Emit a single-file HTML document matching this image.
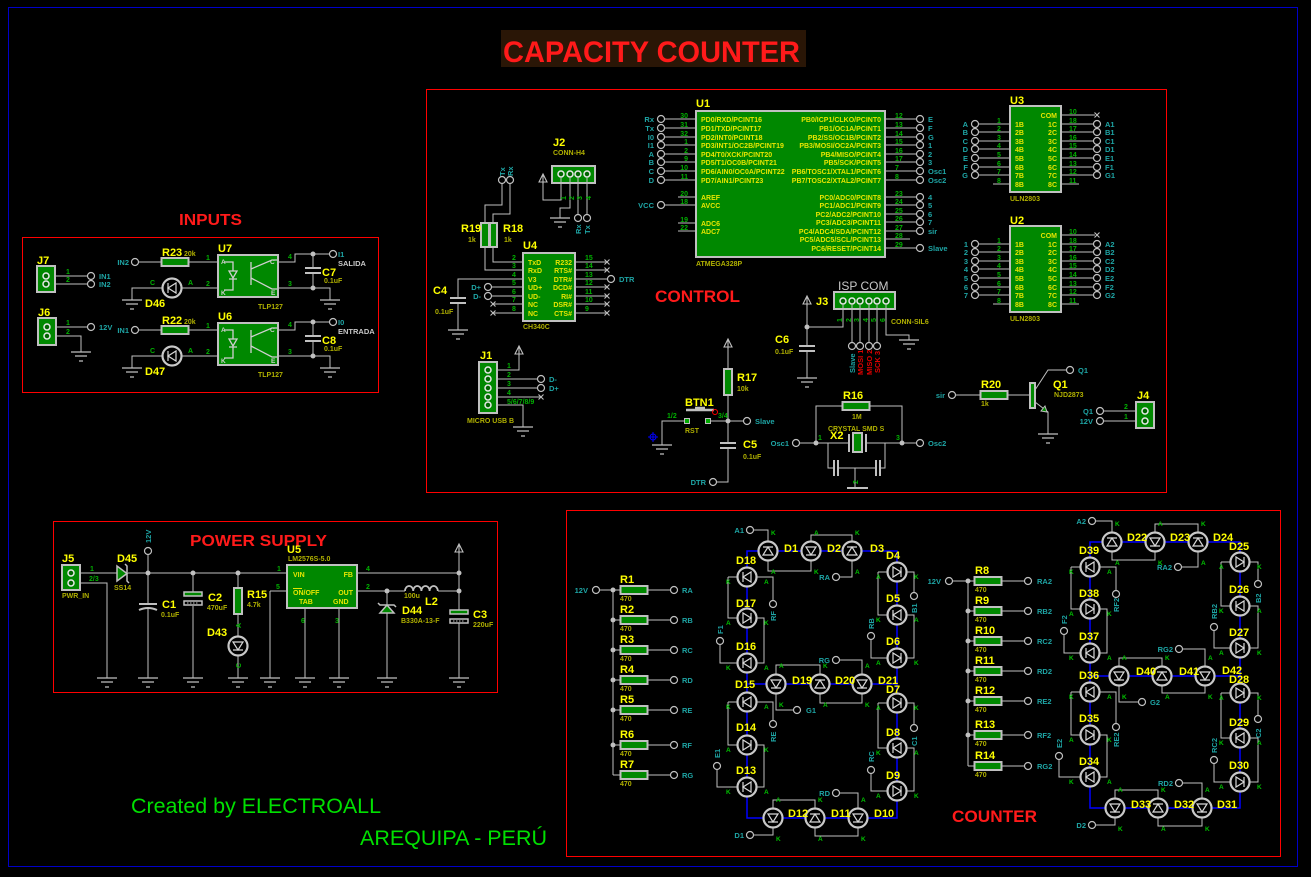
<!DOCTYPE html>
<html><head><meta charset="utf-8">
<style>
html,body{margin:0;padding:0;background:#000;width:1311px;height:877px;overflow:hidden}
svg{display:block}
text{font-family:"Liberation Sans",Arial,sans-serif}
.w{stroke:#c0c0c0;stroke-width:1;fill:none}
.b{stroke:#0000ff;stroke-width:1.5;fill:none}
.ref{fill:#ffff00;font-weight:bold;font-size:11px}
.val{fill:#b0b000;font-weight:bold;font-size:7px}
.pn{fill:#00b000;font-size:7px;font-weight:bold}
.ka{fill:#00c000;font-size:6.5px;font-weight:bold}
.net{fill:#1ea5a5;font-size:7.5px;font-weight:bold}
.ng{fill:#c8c8c8;font-size:7.5px;font-weight:bold}
.ic{fill:#e6e600;font-size:7px;font-weight:bold}
.ic2{fill:#d0d0d0;font-size:6.5px;font-weight:bold}
.tt{fill:#ff1a1a;font-weight:bold}
.red{fill:#e00000;font-size:7.5px;font-weight:bold}
.g{fill:#008800;stroke:#c0c0c0;stroke-width:2}
.e{text-anchor:end}
</style></head><body>
<svg width="1311" height="877" viewBox="0 0 1311 877">
<defs>
<path id="gnd" d="M-10,0H10M-6,4H6M-2,9H2" stroke="#c0c0c0" stroke-width="1.2" fill="none"/>
<path id="pwr" d="M-4,0L0,-8L4,0ZM0,-8V2" stroke="#c0c0c0" stroke-width="1.1" fill="none"/>
<circle id="pc" r="3.5" fill="#000" stroke="#c0c0c0" stroke-width="1.2"/>
<circle id="dot" r="2.5" fill="#c0c0c0"/>
<circle id="cp" r="3" fill="#006600" stroke="#e8e8e8" stroke-width="1.5"/>
<rect id="rh" x="-13.5" y="-4" width="27" height="8" fill="#008800" stroke="#c0c0c0" stroke-width="2"/>
<rect id="rv" x="-4" y="-13" width="8" height="26" fill="#008800" stroke="#c0c0c0" stroke-width="2"/>
<path id="xm" d="M-2.5,-2.5L2.5,2.5M-2.5,2.5L2.5,-2.5" stroke="#c0c0c0" stroke-width="1.1"/>
<g id="dR"><circle r="9.5" fill="#000" stroke="#c8c8c8" stroke-width="2.2"/><path d="M-4,-5V5L4,0ZM4,-5V5" fill="none" stroke="#d8d8d8" stroke-width="1.2"/></g>
</defs>

<!-- frame and title -->
<rect x="8.5" y="7.5" width="1289" height="859" fill="none" stroke="#0000c8"/>
<rect x="501" y="30" width="305" height="37" fill="#2a1606"/>
<text x="503" y="62" class="tt" font-size="30" textLength="297" lengthAdjust="spacingAndGlyphs">CAPACITY COUNTER</text>

<!-- ================= INPUTS ================= -->
<text x="179" y="225" class="tt" font-size="16" textLength="63" lengthAdjust="spacingAndGlyphs">INPUTS</text>
<rect x="22.5" y="237.5" width="356" height="155" fill="none" stroke="#ff0000"/>
<!-- J7 -->
<text x="37" y="264" class="ref">J7</text>
<rect class="g" x="37" y="266" width="18" height="26"/>
<use href="#cp" x="46" y="276"/><use href="#cp" x="46" y="284"/>
<path class="w" d="M55,276H87M55,284H87"/>
<use href="#pc" x="91" y="276"/><use href="#pc" x="91" y="284"/>
<text x="66" y="274" class="pn">1</text><text x="66" y="282" class="pn">2</text>
<text x="99" y="279" class="net">IN1</text><text x="99" y="287" class="net">IN2</text>
<!-- J6 -->
<text x="38" y="316" class="ref">J6</text>
<rect class="g" x="38" y="318" width="18" height="27"/>
<use href="#cp" x="47" y="327"/><use href="#cp" x="47" y="336"/>
<path class="w" d="M56,327H87M56,336H81V352"/>
<use href="#pc" x="91" y="327"/><use href="#gnd" x="81" y="352"/>
<text x="66" y="325" class="pn">1</text><text x="66" y="334" class="pn">2</text>
<text x="99" y="330" class="net">12V</text>

<!-- U7 -->
<g>
<path class="w" d="M139,262H161M189,262H218M132,300V288H162M182,288H218M278,262H295V254H329M313,254V268M313,273V288M278,288H330V300"/>
<use href="#pc" x="135" y="262"/><use href="#pc" x="333" y="254"/>
<use href="#dot" x="313" y="254"/><use href="#dot" x="313" y="288"/>
<path d="M305,268H321M305,273H321" stroke="#c0c0c0" stroke-width="2"/>
<use href="#gnd" x="132" y="300"/><use href="#gnd" x="330" y="300"/>
<use href="#rh" x="175" y="262"/>
<use href="#dR" transform="translate(172,288) rotate(180)"/>
<rect class="g" x="218" y="255" width="60" height="42"/>
<path d="M224,262H233V271M233,279V290H224M229,271H237L233,278ZM229,279H237M251,262V285M251,269L272,260H277M251,278L272,289H277" stroke="#d0d0d0" stroke-width="1.3" fill="none"/>
<text x="221" y="264" class="ic2">A</text><text x="221" y="295" class="ic2">K</text>
<text x="270" y="264" class="ic2">C</text><text x="271" y="295" class="ic2">E</text>
</g>
<text x="162" y="256" class="ref">R23</text><text x="184" y="256" class="val">20k</text>
<text x="129" y="265" class="net e">IN2</text>
<text x="206" y="260" class="pn">1</text><text x="206" y="286" class="pn">2</text>
<text x="150" y="285" class="pn">C</text><text x="188" y="285" class="pn">A</text>
<text x="145" y="307" class="ref">D46</text><text x="218" y="252" class="ref">U7</text>
<text x="288" y="259" class="pn">4</text><text x="288" y="286" class="pn">3</text>
<text x="338" y="257" class="net">I1</text><text x="338" y="266" class="ng">SALIDA</text>
<text x="322" y="276" class="ref">C7</text><text x="324" y="283" class="val">0.1uF</text>
<text x="258" y="309" class="val">TLP127</text>

<!-- U6 -->
<g transform="translate(0,68)">
<path class="w" d="M139,262H161M189,262H218M132,300V288H162M182,288H218M278,262H295V254H329M313,254V268M313,273V288M278,288H330V300"/>
<use href="#pc" x="135" y="262"/><use href="#pc" x="333" y="254"/>
<use href="#dot" x="313" y="254"/><use href="#dot" x="313" y="288"/>
<path d="M305,268H321M305,273H321" stroke="#c0c0c0" stroke-width="2"/>
<use href="#gnd" x="132" y="300"/><use href="#gnd" x="330" y="300"/>
<use href="#rh" x="175" y="262"/>
<use href="#dR" transform="translate(172,288) rotate(180)"/>
<rect class="g" x="218" y="255" width="60" height="42"/>
<path d="M224,262H233V271M233,279V290H224M229,271H237L233,278ZM229,279H237M251,262V285M251,269L272,260H277M251,278L272,289H277" stroke="#d0d0d0" stroke-width="1.3" fill="none"/>
<text x="221" y="264" class="ic2">A</text><text x="221" y="295" class="ic2">K</text>
<text x="270" y="264" class="ic2">C</text><text x="271" y="295" class="ic2">E</text>
<text x="162" y="256" class="ref">R22</text><text x="184" y="256" class="val">20k</text>
<text x="129" y="265" class="net e">IN1</text>
<text x="206" y="260" class="pn">1</text><text x="206" y="286" class="pn">2</text>
<text x="150" y="285" class="pn">C</text><text x="188" y="285" class="pn">A</text>
<text x="145" y="307" class="ref">D47</text><text x="218" y="252" class="ref">U6</text>
<text x="288" y="259" class="pn">4</text><text x="288" y="286" class="pn">3</text>
<text x="338" y="257" class="net">I0</text><text x="338" y="266" class="ng">ENTRADA</text>
<text x="322" y="276" class="ref">C8</text><text x="324" y="283" class="val">0.1uF</text>
<text x="258" y="309" class="val">TLP127</text>
</g>

<!-- ================= CONTROL ================= -->
<rect x="426.5" y="89.5" width="740" height="403" fill="none" stroke="#ff0000"/>
<text x="655" y="302" class="tt" font-size="17" textLength="85" lengthAdjust="spacingAndGlyphs">CONTROL</text>

<!-- J2 -->
<text x="553" y="146" class="ref">J2</text><text x="553" y="155" class="val">CONN-H4</text>
<rect class="g" x="552" y="166" width="43" height="17"/>
<use href="#cp" x="561" y="174"/><use href="#cp" x="570" y="174"/><use href="#cp" x="578" y="174"/><use href="#cp" x="587" y="174"/>
<path class="w" d="M561,177V200H543V182M570,177V208H560V218M578,177V214M587,177V214"/>
<use href="#pwr" x="543" y="182"/><use href="#gnd" x="560" y="218"/>
<use href="#pc" x="578" y="218"/><use href="#pc" x="587" y="218"/>
<text transform="translate(566,200) rotate(-90)" class="pn">1</text>
<text transform="translate(574,200) rotate(-90)" class="pn">2</text>
<text transform="translate(582,200) rotate(-90)" class="pn">3</text>
<text transform="translate(591,200) rotate(-90)" class="pn">4</text>
<text transform="translate(581,234) rotate(-90)" class="net">Rx</text>
<text transform="translate(590,234) rotate(-90)" class="net">Tx</text>

<!-- R19/R18 -->
<use href="#pc" x="502" y="180"/><use href="#pc" x="510" y="180"/>
<text transform="translate(505,176) rotate(-90)" class="net">Tx</text>
<text transform="translate(513,176) rotate(-90)" class="net">Rx</text>
<path class="w" d="M502,184V205H485V223M510,184V214H493V223M485,247V270H523M493,247V262H523"/>
<rect class="g" x="481" y="223" width="8" height="24"/>
<rect class="g" x="490" y="223" width="7" height="24"/>
<text x="461" y="232" class="ref">R19</text><text x="468" y="242" class="val">1k</text>
<text x="503" y="232" class="ref">R18</text><text x="504" y="242" class="val">1k</text>

<!-- U4 -->
<text x="523" y="249" class="ref">U4</text>
<rect class="g" x="523" y="253" width="52" height="68"/>
<text x="523" y="329" class="val">CH340C</text>
<path class="w" d="M523,279H458V298M458,303V330M492,287H523M492,296H523M493,304H523M493,313H523M575,262H606M575,270H606M575,279H607M575,287H606M575,296H606M575,304H606M575,313H606"/>
<path d="M450,298H466M450,303H466" stroke="#c0c0c0" stroke-width="2"/>
<use href="#gnd" x="458" y="330"/>
<use href="#pc" x="488" y="287"/><use href="#pc" x="488" y="296"/>
<use href="#xm" x="493" y="304"/><use href="#xm" x="493" y="313"/>
<use href="#xm" x="607" y="262"/><use href="#xm" x="607" y="270"/><use href="#pc" x="611" y="279"/>
<use href="#xm" x="607" y="287"/><use href="#xm" x="607" y="296"/><use href="#xm" x="607" y="304"/><use href="#xm" x="607" y="313"/>
<text x="619" y="282" class="net">DTR</text>
<text x="481" y="290" class="net e">D+</text><text x="481" y="299" class="net e">D-</text>
<text x="433" y="294" class="ref">C4</text><text x="435" y="314" class="val">0.1uF</text>
<g class="pn">
<text x="512" y="260">2</text><text x="512" y="268">3</text><text x="512" y="277">4</text><text x="512" y="285">5</text><text x="512" y="294">6</text><text x="512" y="302">7</text><text x="512" y="311">8</text>
<text x="585" y="260">15</text><text x="585" y="268">14</text><text x="585" y="277">13</text><text x="585" y="285">12</text><text x="585" y="294">11</text><text x="585" y="302">10</text><text x="585" y="311">9</text>
</g>
<g class="ic">
<text x="528" y="265">TxD</text><text x="528" y="273">RxD</text><text x="528" y="282">V3</text><text x="528" y="290">UD+</text><text x="528" y="299">UD-</text><text x="528" y="307">NC</text><text x="528" y="316">NC</text>
</g>
<g class="ic e">
<text x="572" y="265">R232</text><text x="572" y="273">RTS#</text><text x="572" y="282">DTR#</text><text x="572" y="290">DCD#</text><text x="572" y="299">RI#</text><text x="572" y="307">DSR#</text><text x="572" y="316">CTS#</text>
</g>

<!-- J1 -->
<text x="480" y="359" class="ref">J1</text>
<rect class="g" x="479" y="362" width="18" height="51"/>
<use href="#cp" x="488" y="370"/><use href="#cp" x="488" y="379"/><use href="#cp" x="488" y="388"/><use href="#cp" x="488" y="397"/><use href="#cp" x="488" y="405"/>
<path class="w" d="M497,370H519V354M497,379H537M497,388H537M497,397H541M497,405H523V427"/>
<use href="#pwr" x="519" y="354"/>
<use href="#pc" x="541" y="379"/><use href="#pc" x="541" y="388"/><use href="#xm" x="541" y="397"/>
<use href="#gnd" x="523" y="427"/>
<text x="549" y="382" class="net">D-</text><text x="549" y="391" class="net">D+</text>
<g class="pn"><text x="507" y="368">1</text><text x="507" y="377">2</text><text x="507" y="386">3</text><text x="507" y="395">4</text><text x="507" y="404">5/6/7/8/9</text></g>
<text x="467" y="423" class="val">MICRO USB B</text>

<!-- U1 -->
<text x="696" y="107" class="ref">U1</text>
<rect class="g" x="696" y="111" width="189" height="146"/>
<text x="696" y="266" class="val">ATMEGA328P</text>
<path class="w" d="M665,119H696M665,128H696M665,137H696M665,145H696M665,154H696M665,162H696M665,171H696M665,180H696M678,197H696M665,205H696M678,223H696M678,231H696M885,119H916M885,128H916M885,137H916M885,145H916M885,154H916M885,162H916M885,171H916M885,180H916M885,197H916M885,205H916M885,214H916M885,222H916M885,231H916M885,239H910M885,248H916"/>
<use href="#pc" x="661" y="119"/><use href="#pc" x="661" y="128"/><use href="#pc" x="661" y="137"/><use href="#pc" x="661" y="145"/><use href="#pc" x="661" y="154"/><use href="#pc" x="661" y="162"/><use href="#pc" x="661" y="171"/><use href="#pc" x="661" y="180"/><use href="#pc" x="661" y="205"/>
<use href="#pc" x="920" y="119"/><use href="#pc" x="920" y="128"/><use href="#pc" x="920" y="137"/><use href="#pc" x="920" y="145"/><use href="#pc" x="920" y="154"/><use href="#pc" x="920" y="162"/><use href="#pc" x="920" y="171"/><use href="#pc" x="920" y="180"/>
<use href="#pc" x="920" y="197"/><use href="#pc" x="920" y="205"/><use href="#pc" x="920" y="214"/><use href="#pc" x="920" y="222"/><use href="#pc" x="920" y="231"/><use href="#pc" x="920" y="248"/>
<g class="net e">
<text x="654" y="122">Rx</text><text x="654" y="131">Tx</text><text x="654" y="140">I0</text><text x="654" y="148">I1</text><text x="654" y="157">A</text><text x="654" y="165">B</text><text x="654" y="174">C</text><text x="654" y="183">D</text><text x="654" y="208">VCC</text>
</g>
<g class="net">
<text x="928" y="122">E</text><text x="928" y="131">F</text><text x="928" y="140">G</text><text x="928" y="148">1</text><text x="928" y="157">2</text><text x="928" y="165">3</text><text x="928" y="174">Osc1</text><text x="928" y="183">Osc2</text>
<text x="928" y="200">4</text><text x="928" y="208">5</text><text x="928" y="217">6</text><text x="928" y="225">7</text><text x="928" y="234">sir</text><text x="928" y="251">Slave</text>
</g>
<g class="pn e">
<text x="688" y="118">30</text><text x="688" y="127">31</text><text x="688" y="136">32</text><text x="688" y="144">1</text><text x="688" y="153">2</text><text x="688" y="161">9</text><text x="688" y="170">10</text><text x="688" y="179">11</text>
<text x="688" y="196">20</text><text x="688" y="204">18</text><text x="688" y="222">19</text><text x="688" y="230">22</text>
</g>
<g class="pn">
<text x="895" y="118">12</text><text x="895" y="127">13</text><text x="895" y="136">14</text><text x="895" y="144">15</text><text x="895" y="153">16</text><text x="895" y="161">17</text><text x="895" y="170">7</text><text x="895" y="179">8</text>
<text x="895" y="196">23</text><text x="895" y="204">24</text><text x="895" y="213">25</text><text x="895" y="221">26</text><text x="895" y="230">27</text><text x="895" y="238">28</text><text x="895" y="247">29</text>
</g>
<g class="ic">
<text x="701" y="122">PD0/RXD/PCINT16</text><text x="701" y="131">PD1/TXD/PCINT17</text><text x="701" y="140">PD2/INT0/PCINT18</text><text x="701" y="148">PD3/INT1/OC2B/PCINT19</text><text x="701" y="157">PD4/T0/XCK/PCINT20</text><text x="701" y="165">PD5/T1/OC0B/PCINT21</text><text x="701" y="174">PD6/AIN0/OC0A/PCINT22</text><text x="701" y="183">PD7/AIN1/PCINT23</text>
<text x="701" y="200">AREF</text><text x="701" y="208">AVCC</text><text x="701" y="226">ADC6</text><text x="701" y="234">ADC7</text>
</g>
<g class="ic e">
<text x="881" y="122">PB0/ICP1/CLKO/PCINT0</text><text x="881" y="131">PB1/OC1A/PCINT1</text><text x="881" y="140">PB2/SS/OC1B/PCINT2</text><text x="881" y="148">PB3/MOSI/OC2A/PCINT3</text><text x="881" y="157">PB4/MISO/PCINT4</text><text x="881" y="165">PB5/SCK/PCINT5</text><text x="881" y="174">PB6/TOSC1/XTAL1/PCINT6</text><text x="881" y="183">PB7/TOSC2/XTAL2/PCINT7</text>
<text x="881" y="200">PC0/ADC0/PCINT8</text><text x="881" y="208">PC1/ADC1/PCINT9</text><text x="881" y="217">PC2/ADC2/PCINT10</text><text x="881" y="225">PC3/ADC3/PCINT11</text><text x="881" y="234">PC4/ADC4/SDA/PCINT12</text><text x="881" y="242">PC5/ADC5/SCL/PCINT13</text><text x="881" y="251">PC6/RESET/PCINT14</text>
</g>

<!-- U3 -->
<text x="1010" y="104" class="ref">U3</text>
<rect class="g" x="1010" y="106" width="51" height="86"/>
<text x="1010" y="201" class="val">ULN2803</text>
<path class="w" d="M979,124H1010M979,132H1010M979,141H1010M979,149H1010M979,158H1010M979,167H1010M979,175H1010M993,184H1010M1061,115H1095M1061,124H1093M1061,132H1093M1061,141H1093M1061,149H1093M1061,158H1093M1061,167H1093M1061,175H1093M1061,184H1079"/>
<use href="#xm" x="1097" y="115"/>
<use href="#pc" x="975" y="124"/><use href="#pc" x="975" y="132"/><use href="#pc" x="975" y="141"/><use href="#pc" x="975" y="149"/><use href="#pc" x="975" y="158"/><use href="#pc" x="975" y="167"/><use href="#pc" x="975" y="175"/>
<use href="#pc" x="1097" y="124"/><use href="#pc" x="1097" y="132"/><use href="#pc" x="1097" y="141"/><use href="#pc" x="1097" y="149"/><use href="#pc" x="1097" y="158"/><use href="#pc" x="1097" y="167"/><use href="#pc" x="1097" y="175"/>
<g class="net e"><text x="968" y="127">A</text><text x="968" y="135">B</text><text x="968" y="144">C</text><text x="968" y="152">D</text><text x="968" y="161">E</text><text x="968" y="170">F</text><text x="968" y="178">G</text></g>
<g class="net"><text x="1105" y="127">A1</text><text x="1105" y="135">B1</text><text x="1105" y="144">C1</text><text x="1105" y="152">D1</text><text x="1105" y="161">E1</text><text x="1105" y="170">F1</text><text x="1105" y="178">G1</text></g>
<g class="pn"><text x="997" y="123">1</text><text x="997" y="131">2</text><text x="997" y="140">3</text><text x="997" y="148">4</text><text x="997" y="157">5</text><text x="997" y="166">6</text><text x="997" y="174">7</text><text x="997" y="183">8</text>
<text x="1069" y="114">10</text><text x="1069" y="123">18</text><text x="1069" y="131">17</text><text x="1069" y="140">16</text><text x="1069" y="148">15</text><text x="1069" y="157">14</text><text x="1069" y="166">13</text><text x="1069" y="174">12</text><text x="1069" y="183">11</text></g>
<g class="ic"><text x="1015" y="127">1B</text><text x="1015" y="135">2B</text><text x="1015" y="144">3B</text><text x="1015" y="152">4B</text><text x="1015" y="161">5B</text><text x="1015" y="170">6B</text><text x="1015" y="178">7B</text><text x="1015" y="187">8B</text></g>
<g class="ic e"><text x="1057" y="118">COM</text><text x="1057" y="127">1C</text><text x="1057" y="135">2C</text><text x="1057" y="144">3C</text><text x="1057" y="152">4C</text><text x="1057" y="161">5C</text><text x="1057" y="170">6C</text><text x="1057" y="178">7C</text><text x="1057" y="187">8C</text></g>

<!-- U2 -->
<g transform="translate(0,120)">
<text x="1010" y="104" class="ref">U2</text>
<rect class="g" x="1010" y="106" width="51" height="86"/>
<text x="1010" y="201" class="val">ULN2803</text>
<path class="w" d="M979,124H1010M979,132H1010M979,141H1010M979,149H1010M979,158H1010M979,167H1010M979,175H1010M993,184H1010M1061,115H1095M1061,124H1093M1061,132H1093M1061,141H1093M1061,149H1093M1061,158H1093M1061,167H1093M1061,175H1093M1061,184H1079"/>
<use href="#xm" x="1097" y="115"/>
<use href="#pc" x="975" y="124"/><use href="#pc" x="975" y="132"/><use href="#pc" x="975" y="141"/><use href="#pc" x="975" y="149"/><use href="#pc" x="975" y="158"/><use href="#pc" x="975" y="167"/><use href="#pc" x="975" y="175"/>
<use href="#pc" x="1097" y="124"/><use href="#pc" x="1097" y="132"/><use href="#pc" x="1097" y="141"/><use href="#pc" x="1097" y="149"/><use href="#pc" x="1097" y="158"/><use href="#pc" x="1097" y="167"/><use href="#pc" x="1097" y="175"/>
<g class="net e"><text x="968" y="127">1</text><text x="968" y="135">2</text><text x="968" y="144">3</text><text x="968" y="152">4</text><text x="968" y="161">5</text><text x="968" y="170">6</text><text x="968" y="178">7</text></g>
<g class="net"><text x="1105" y="127">A2</text><text x="1105" y="135">B2</text><text x="1105" y="144">C2</text><text x="1105" y="152">D2</text><text x="1105" y="161">E2</text><text x="1105" y="170">F2</text><text x="1105" y="178">G2</text></g>
<g class="pn"><text x="997" y="123">1</text><text x="997" y="131">2</text><text x="997" y="140">3</text><text x="997" y="148">4</text><text x="997" y="157">5</text><text x="997" y="166">6</text><text x="997" y="174">7</text><text x="997" y="183">8</text>
<text x="1069" y="114">10</text><text x="1069" y="123">18</text><text x="1069" y="131">17</text><text x="1069" y="140">16</text><text x="1069" y="148">15</text><text x="1069" y="157">14</text><text x="1069" y="166">13</text><text x="1069" y="174">12</text><text x="1069" y="183">11</text></g>
<g class="ic"><text x="1015" y="127">1B</text><text x="1015" y="135">2B</text><text x="1015" y="144">3B</text><text x="1015" y="152">4B</text><text x="1015" y="161">5B</text><text x="1015" y="170">6B</text><text x="1015" y="178">7B</text><text x="1015" y="187">8B</text></g>
<g class="ic e"><text x="1057" y="118">COM</text><text x="1057" y="127">1C</text><text x="1057" y="135">2C</text><text x="1057" y="144">3C</text><text x="1057" y="152">4C</text><text x="1057" y="161">5C</text><text x="1057" y="170">6C</text><text x="1057" y="178">7C</text><text x="1057" y="187">8C</text></g>
</g>

<!-- J3 ISP -->
<text x="838" y="290" fill="#c8c8c8" font-size="12">ISP COM</text>
<rect class="g" x="834" y="292" width="61" height="17"/>
<use href="#cp" x="843" y="301"/><use href="#cp" x="852" y="301"/><use href="#cp" x="860" y="301"/><use href="#cp" x="869" y="301"/><use href="#cp" x="877" y="301"/><use href="#cp" x="886" y="301"/>
<text x="816" y="305" class="ref">J3</text>
<path class="w" d="M843,304V327H807M807,327V304M807,327V346M807,351V378M852,304V342M860,304V342M869,304V342M877,304V342M886,304V335H909V340"/>
<use href="#dot" x="807" y="327"/><use href="#pwr" x="807" y="304"/>
<path d="M799,346H815M799,351H815" stroke="#c0c0c0" stroke-width="2"/>
<use href="#gnd" x="807" y="378"/><use href="#gnd" x="909" y="340"/>
<use href="#pc" x="852" y="346"/><use href="#pc" x="860" y="346"/><use href="#pc" x="869" y="346"/><use href="#pc" x="877" y="346"/>
<text x="775" y="343" class="ref">C6</text><text x="775" y="354" class="val">0.1uF</text>
<text x="891" y="324" class="val">CONN-SIL6</text>
<text transform="translate(842,322) rotate(-90)" class="pn">1</text>
<text transform="translate(851,322) rotate(-90)" class="pn">2</text>
<text transform="translate(859,322) rotate(-90)" class="pn">3</text>
<text transform="translate(868,322) rotate(-90)" class="pn">4</text>
<text transform="translate(876,322) rotate(-90)" class="pn">5</text>
<text transform="translate(885,322) rotate(-90)" class="pn">6</text>
<text transform="translate(855,373) rotate(-90)" class="net">Slave</text>
<text transform="translate(863,375) rotate(-90)" class="red">MOSI 1</text>
<text transform="translate(872,375) rotate(-90)" class="red">MISO 2</text>
<text transform="translate(880,373) rotate(-90)" class="red">SCK 3</text>

<!-- R17 / BTN1 / C5 -->
<use href="#pwr" x="728" y="347"/>
<path class="w" d="M728,347V369M728,395V443M728,448V482H717M708,421H743M687,421H662V445"/>
<use href="#rv" x="728" y="382"/>
<use href="#dot" x="728" y="421"/>
<use href="#pc" x="747" y="421"/><use href="#pc" x="713" y="482"/>
<path d="M720,443H736M720,448H736" stroke="#c0c0c0" stroke-width="2"/>
<use href="#gnd" x="662" y="445"/>
<text x="737" y="381" class="ref">R17</text><text x="737" y="391" class="val">10k</text>
<text x="685" y="406" class="ref">BTN1</text>
<path d="M686,410H714M695,408H705" stroke="#c0c0c0" stroke-width="2.5"/>
<rect x="684.5" y="418.5" width="5" height="5" fill="#00aa00" stroke="#c0c0c0"/>
<rect x="705.5" y="418.5" width="5" height="5" fill="#00aa00" stroke="#c0c0c0"/>
<circle cx="715" cy="412" r="2.5" fill="none" stroke="#ff0000"/>
<text x="667" y="418" class="pn">1/2</text><text x="718" y="418" class="pn">3/4</text>
<text x="685" y="433" class="val">RST</text>
<circle cx="653" cy="437" r="3" fill="none" stroke="#0000ff"/><path d="M648,437H658M653,432V442" stroke="#0000ff"/>
<text x="755" y="424" class="net">Slave</text>
<text x="706" y="485" class="net e">DTR</text>
<text x="743" y="448" class="ref">C5</text><text x="743" y="459" class="val">0.1uF</text>

<!-- R16 / X2 -->
<use href="#rh" x="856" y="406"/>
<text x="843" y="399" class="ref">R16</text><text x="852" y="419" class="val">1M</text>
<path class="w" d="M842,406H816V443M870,406H902V443M800,443H849M866,443H916M828,443V468H834M838,468H876M880,468H885V443M855,468V488"/>
<use href="#dot" x="816" y="443"/><use href="#dot" x="902" y="443"/>
<use href="#pc" x="796" y="443"/><use href="#pc" x="920" y="443"/>
<rect class="g" x="853" y="433" width="9" height="19"/>
<path d="M849,434V452M866,434V452M834,460V476M838,460V476M876,460V476M880,460V476M847,488H868" stroke="#c0c0c0" stroke-width="2"/>
<text x="828" y="431" class="val">CRYSTAL SMD S</text>
<text x="830" y="439" class="ref">X2</text>
<text x="818" y="440" class="pn">1</text><text x="896" y="440" class="pn">3</text>
<text transform="translate(858,484) rotate(-90)" class="pn">2</text>
<text x="789" y="446" class="net e">Osc1</text><text x="928" y="446" class="net">Osc2</text>

<!-- Q1 / R20 / J4 -->
<use href="#pc" x="952" y="395"/><text x="945" y="398" class="net e">sir</text>
<path class="w" d="M956,395H981M1007,395H1031M1035,390L1048,370H1066M1035,402L1048,412V434"/>
<use href="#rh" x="994" y="395"/>
<text x="981" y="388" class="ref">R20</text><text x="981" y="406" class="val">1k</text>
<rect class="g" x="1030" y="383" width="5" height="25"/>
<path d="M1047,412L1041,411L1045,406Z" fill="#008800" stroke="#c0c0c0"/>
<use href="#gnd" x="1048" y="434"/>
<use href="#pc" x="1070" y="370"/><text x="1078" y="373" class="net">Q1</text>
<text x="1053" y="388" class="ref">Q1</text><text x="1054" y="397" class="val">NJD2873</text>
<text x="1137" y="399" class="ref">J4</text>
<rect class="g" x="1136" y="402" width="18" height="26"/>
<use href="#cp" x="1145" y="411"/><use href="#cp" x="1145" y="421"/>
<path class="w" d="M1104,411H1136M1104,421H1136"/>
<use href="#pc" x="1100" y="411"/><use href="#pc" x="1100" y="421"/>
<text x="1093" y="414" class="net e">Q1</text><text x="1093" y="424" class="net e">12V</text>
<text x="1124" y="409" class="pn">2</text><text x="1124" y="419" class="pn">1</text>

<!-- ================= POWER SUPPLY ================= -->
<rect x="53.5" y="521.5" width="444" height="171" fill="none" stroke="#ff0000"/>
<text x="190" y="546" class="tt" font-size="16" textLength="137" lengthAdjust="spacingAndGlyphs">POWER SUPPLY</text>
<text x="62" y="562" class="ref">J5</text>
<rect class="g" x="62" y="565" width="18" height="25"/>
<use href="#cp" x="71" y="573"/><use href="#cp" x="71" y="583"/>
<text x="62" y="598" class="val">PWR_IN</text>
<path class="w" d="M80,573H117M80,583H107V678M128,573H287M148,555V604M148,609V678M193,573V592M193,606V678M238,573V588M238,615V636M238,656V678M270,591H287M270,591V678M305,608V678M339,608V678M357,573H459M357,591H405M438,591H459M387,591V605M387,613V678M459,552V610M459,623V678"/>
<text x="90" y="571" class="pn">1</text><text x="89" y="581" class="pn">2/3</text>
<path d="M117,566V581L127,573.5Z" fill="#008800" stroke="#c0c0c0" stroke-width="1.5"/>
<path d="M125,564L127,566V581L129,583" stroke="#c0c0c0" stroke-width="1.5" fill="none"/>
<text x="117" y="562" class="ref">D45</text><text x="114" y="590" class="val">SS14</text>
<use href="#dot" x="148" y="573"/><use href="#dot" x="193" y="573"/><use href="#dot" x="238" y="573"/>
<use href="#pc" x="148" y="551"/>
<text transform="translate(151,543) rotate(-90)" class="net">12V</text>
<path d="M139,604H157M139,610Q148,606 157,610" stroke="#c0c0c0" stroke-width="2" fill="none"/>
<text x="162" y="608" class="ref">C1</text><text x="161" y="617" class="val">0.1uF</text>
<rect x="184" y="592" width="18" height="4" fill="#008800" stroke="#c0c0c0" stroke-width="1.5"/>
<rect x="184" y="601" width="18" height="4" fill="#000" stroke="#c0c0c0" stroke-width="1.5"/>
<path d="M187,603H199" stroke="#c0c0c0" stroke-dasharray="1.5,1.5"/>
<text x="208" y="601" class="ref">C2</text><text x="207" y="610" class="val">470uF</text>
<use href="#rv" x="238" y="601"/>
<text x="247" y="598" class="ref">R15</text><text x="247" y="607" class="val">4.7k</text>
<use href="#dR" transform="translate(238,646) rotate(90)"/>
<text transform="translate(241,628) rotate(-90)" class="pn">A</text>
<text transform="translate(241,668) rotate(-90)" class="pn">C</text>
<text x="207" y="636" class="ref">D43</text>
<rect class="g" x="287" y="565" width="70" height="43"/>
<text x="287" y="553" class="ref">U5</text><text x="288" y="561" class="val">LM2576S-5.0</text>
<g class="ic"><text x="293" y="577">VIN</text><text x="293" y="595">ON/OFF</text><text x="299" y="604">TAB</text><text x="333" y="604">GND</text></g>
<g class="ic e"><text x="353" y="577">FB</text><text x="353" y="595">OUT</text></g>
<path d="M293,588.5H302" stroke="#e6e600"/>
<g class="pn"><text x="277" y="571">1</text><text x="276" y="589">5</text><text x="301" y="623">6</text><text x="335" y="623">3</text><text x="366" y="571">4</text><text x="366" y="589">2</text></g>
<use href="#dot" x="387" y="591"/><use href="#dot" x="459" y="573"/><use href="#dot" x="459" y="591"/>
<path d="M380,613H394L387,605Z" fill="#008800" stroke="#c0c0c0" stroke-width="1.5"/>
<path d="M378,603L380,605H394L396,607" stroke="#c0c0c0" stroke-width="1.5" fill="none"/>
<text x="402" y="614" class="ref">D44</text><text x="401" y="623" class="val">B330A-13-F</text>
<path d="M405,591a4.1,5 0 0 1 8.2,0a4.1,5 0 0 1 8.2,0a4.1,5 0 0 1 8.2,0a4.1,5 0 0 1 8.2,0" stroke="#c0c0c0" stroke-width="1.8" fill="none"/>
<text x="404" y="598" class="val">100u</text><text x="425" y="605" class="ref">L2</text>
<use href="#pwr" x="459" y="552"/>
<rect x="450" y="610" width="18" height="4" fill="#008800" stroke="#c0c0c0" stroke-width="1.5"/>
<rect x="450" y="619" width="18" height="4" fill="#000" stroke="#c0c0c0" stroke-width="1.5"/>
<path d="M453,621H465" stroke="#c0c0c0" stroke-dasharray="1.5,1.5"/>
<text x="473" y="618" class="ref">C3</text><text x="473" y="627" class="val">220uF</text>
<use href="#gnd" x="107" y="678"/><use href="#gnd" x="148" y="678"/><use href="#gnd" x="193" y="678"/><use href="#gnd" x="238" y="678"/><use href="#gnd" x="270" y="678"/><use href="#gnd" x="305" y="678"/><use href="#gnd" x="339" y="678"/><use href="#gnd" x="387" y="678"/><use href="#gnd" x="459" y="678"/>

<!-- ================= COUNTER ================= -->
<rect x="566.5" y="510.5" width="714" height="346" fill="none" stroke="#ff0000"/>
<text x="952" y="822" class="tt" font-size="17" textLength="85" lengthAdjust="spacingAndGlyphs">COUNTER</text>

<!-- left resistors -->
<use href="#pc" x="596" y="590"/><text x="588" y="593" class="net e">12V</text>
<path class="w" d="M600,590H620M613,590V775M613,620H620M613,650H620M613,680H620M613,710H620M613,745H620M613,775H620M648,590H670M648,620H670M648,650H670M648,680H670M648,710H670M648,745H670M648,775H670"/>
<use href="#dot" x="613" y="590"/><use href="#dot" x="613" y="620"/><use href="#dot" x="613" y="650"/><use href="#dot" x="613" y="680"/><use href="#dot" x="613" y="710"/><use href="#dot" x="613" y="745"/>
<use href="#rh" x="634" y="590"/><use href="#rh" x="634" y="620"/><use href="#rh" x="634" y="650"/><use href="#rh" x="634" y="680"/><use href="#rh" x="634" y="710"/><use href="#rh" x="634" y="745"/><use href="#rh" x="634" y="775"/>
<use href="#pc" x="674" y="590"/><use href="#pc" x="674" y="620"/><use href="#pc" x="674" y="650"/><use href="#pc" x="674" y="680"/><use href="#pc" x="674" y="710"/><use href="#pc" x="674" y="745"/><use href="#pc" x="674" y="775"/>
<g class="ref"><text x="620" y="583">R1</text><text x="620" y="613">R2</text><text x="620" y="643">R3</text><text x="620" y="673">R4</text><text x="620" y="703">R5</text><text x="620" y="738">R6</text><text x="620" y="768">R7</text></g>
<g class="val"><text x="620" y="601">470</text><text x="620" y="631">470</text><text x="620" y="661">470</text><text x="620" y="691">470</text><text x="620" y="721">470</text><text x="620" y="756">470</text><text x="620" y="786">470</text></g>
<g class="net"><text x="682" y="593">RA</text><text x="682" y="623">RB</text><text x="682" y="653">RC</text><text x="682" y="683">RD</text><text x="682" y="713">RE</text><text x="682" y="748">RF</text><text x="682" y="778">RG</text></g>

<!-- right resistors -->
<use href="#pc" x="949" y="581"/><text x="941" y="584" class="net e">12V</text>
<path class="w" d="M953,581H975M968,581V766M968,611H975M968,641H975M968,671H975M968,701H975M968,735H975M968,766H975M1001,581H1024M1001,611H1024M1001,641H1024M1001,671H1024M1001,701H1024M1001,735H1024M1001,766H1024"/>
<use href="#dot" x="968" y="581"/><use href="#dot" x="968" y="611"/><use href="#dot" x="968" y="641"/><use href="#dot" x="968" y="671"/><use href="#dot" x="968" y="701"/><use href="#dot" x="968" y="735"/>
<use href="#rh" x="988" y="581"/><use href="#rh" x="988" y="611"/><use href="#rh" x="988" y="641"/><use href="#rh" x="988" y="671"/><use href="#rh" x="988" y="701"/><use href="#rh" x="988" y="735"/><use href="#rh" x="988" y="766"/>
<use href="#pc" x="1028" y="581"/><use href="#pc" x="1028" y="611"/><use href="#pc" x="1028" y="641"/><use href="#pc" x="1028" y="671"/><use href="#pc" x="1028" y="701"/><use href="#pc" x="1028" y="735"/><use href="#pc" x="1028" y="766"/>
<g class="ref"><text x="975" y="574">R8</text><text x="975" y="604">R9</text><text x="975" y="634">R10</text><text x="975" y="664">R11</text><text x="975" y="694">R12</text><text x="975" y="728">R13</text><text x="975" y="759">R14</text></g>
<g class="val"><text x="975" y="592">470</text><text x="975" y="622">470</text><text x="975" y="652">470</text><text x="975" y="682">470</text><text x="975" y="712">470</text><text x="975" y="746">470</text><text x="975" y="777">470</text></g>
<g class="net"><text x="1037" y="584">RA2</text><text x="1037" y="614">RB2</text><text x="1037" y="644">RC2</text><text x="1037" y="674">RD2</text><text x="1037" y="704">RE2</text><text x="1037" y="738">RF2</text><text x="1037" y="769">RG2</text></g>

<!-- left display -->
<path class="b" d="M747,551H897V818H747ZM747,684H897"/>
<path class="w" d="M754,530H768V541M768,561V571H811V561M811,541V535H852V541M852,561V577H840
M728,577H737M757,577H773V600M728,577V618H737M757,618H764V663H757M737,663H720V645
M728,702H737M757,702H773V720M728,702V745H737M757,745H764V787H757M737,787H717V770
M878,572H887M907,572H914V592M878,572V615H887M907,615H914V658H907M887,658H871V640
M878,703H887M907,703H914V724M878,703V748H887M907,748H914V791H907M887,791H871V774
M776,674V665H820V674M776,694V710H793M820,694V703H862V694M862,674V660H840
M754,835H773V828M773,808V800H815V808M815,828V836H858V828M858,808V793H840"/>
<use href="#pc" x="750" y="530"/><use href="#pc" x="836" y="577"/><use href="#pc" x="773" y="604"/><use href="#pc" x="720" y="641"/>
<use href="#pc" x="773" y="724"/><use href="#pc" x="717" y="766"/><use href="#pc" x="914" y="596"/><use href="#pc" x="871" y="636"/>
<use href="#pc" x="914" y="728"/><use href="#pc" x="871" y="770"/><use href="#pc" x="797" y="710"/><use href="#pc" x="836" y="660"/>
<use href="#pc" x="750" y="835"/><use href="#pc" x="836" y="793"/>
<use href="#dR" transform="translate(768,551) rotate(-90)"/>
<use href="#dR" transform="translate(811,551) rotate(90)"/>
<use href="#dR" transform="translate(852,551) rotate(-90)"/>
<use href="#dR" transform="translate(747,577) rotate(180)"/>
<use href="#dR" transform="translate(747,618)"/>
<use href="#dR" transform="translate(747,663) rotate(180)"/>
<use href="#dR" transform="translate(747,702) rotate(180)"/>
<use href="#dR" transform="translate(747,745)"/>
<use href="#dR" transform="translate(747,787) rotate(180)"/>
<use href="#dR" transform="translate(897,572)"/>
<use href="#dR" transform="translate(897,615) rotate(180)"/>
<use href="#dR" transform="translate(897,658)"/>
<use href="#dR" transform="translate(897,703)"/>
<use href="#dR" transform="translate(897,748) rotate(180)"/>
<use href="#dR" transform="translate(897,791)"/>
<use href="#dR" transform="translate(776,684) rotate(90)"/>
<use href="#dR" transform="translate(820,684) rotate(-90)"/>
<use href="#dR" transform="translate(862,684) rotate(90)"/>
<use href="#dR" transform="translate(773,818) rotate(90)"/>
<use href="#dR" transform="translate(815,818) rotate(-90)"/>
<use href="#dR" transform="translate(858,818) rotate(90)"/>
<g class="ka">
<text x="726" y="584">K</text><text x="764" y="584">A</text>
<text x="726" y="625">A</text><text x="764" y="625">K</text>
<text x="726" y="670">K</text><text x="764" y="670">A</text>
<text x="726" y="709">K</text><text x="764" y="709">A</text>
<text x="726" y="752">A</text><text x="764" y="752">K</text>
<text x="726" y="794">K</text><text x="764" y="794">A</text>
<text x="876" y="579">A</text><text x="914" y="579">K</text>
<text x="876" y="622">K</text><text x="914" y="622">A</text>
<text x="876" y="665">A</text><text x="914" y="665">K</text>
<text x="876" y="710">A</text><text x="914" y="710">K</text>
<text x="876" y="755">K</text><text x="914" y="755">A</text>
<text x="876" y="798">A</text><text x="914" y="798">K</text>
<text x="771" y="535">K</text><text x="771" y="574">A</text>
<text x="814" y="535">A</text><text x="814" y="574">K</text>
<text x="855" y="535">K</text><text x="855" y="574">A</text>
<text x="779" y="668">A</text><text x="779" y="707">K</text>
<text x="823" y="668">K</text><text x="823" y="707">A</text>
<text x="865" y="668">A</text><text x="865" y="707">K</text>
<text x="776" y="802">A</text><text x="776" y="841">K</text>
<text x="818" y="802">K</text><text x="818" y="841">A</text>
<text x="861" y="802">A</text><text x="861" y="841">K</text>
</g>
<g class="net e"><text x="744" y="533">A1</text><text x="830" y="580">RA</text><text x="830" y="663">RG</text><text x="744" y="838">D1</text><text x="830" y="796">RD</text></g>
<text x="806" y="713" class="net">G1</text>
<text transform="translate(776,621) rotate(-90)" class="net">RF</text>
<text transform="translate(723,634) rotate(-90)" class="net">F1</text>
<text transform="translate(776,742) rotate(-90)" class="net">RE</text>
<text transform="translate(720,758) rotate(-90)" class="net">E1</text>
<text transform="translate(917,613) rotate(-90)" class="net">B1</text>
<text transform="translate(874,629) rotate(-90)" class="net">RB</text>
<text transform="translate(917,746) rotate(-90)" class="net">C1</text>
<text transform="translate(874,762) rotate(-90)" class="net">RC</text>
<g class="ref">
<text x="784" y="552">D1</text><text x="827" y="552">D2</text><text x="870" y="552">D3</text>
<text x="736" y="564">D18</text><text x="736" y="607">D17</text><text x="736" y="650">D16</text><text x="735" y="688">D15</text><text x="736" y="731">D14</text><text x="736" y="774">D13</text>
<text x="886" y="559">D4</text><text x="886" y="602">D5</text><text x="886" y="645">D6</text><text x="886" y="693">D7</text><text x="886" y="736">D8</text><text x="886" y="779">D9</text>
<text x="792" y="684">D19</text><text x="835" y="684">D20</text><text x="878" y="684">D21</text>
<text x="788" y="817">D12</text><text x="831" y="817">D11</text><text x="874" y="817">D10</text>
</g>

<!-- right display -->
<path class="b" d="M1090,542H1240V808H1090ZM1090,676H1240"/>
<path class="w" d="M1096,521H1112V532M1112,552V560H1155V552M1155,532V524H1198V532M1198,552V567H1182
M1071,567H1080M1100,567H1116V590M1071,567V609H1080M1100,609H1107V653H1100M1080,653H1064V635
M1071,692H1080M1100,692H1116V723M1071,692V735H1080M1100,735H1107V777H1100M1080,777H1059V760
M1221,562H1230M1250,562H1258V580M1221,562V606H1230M1250,606H1258V648H1250M1230,648H1214V631
M1221,693H1230M1250,693H1258V715M1221,693V738H1230M1250,738H1258V782H1250M1230,782H1214V764
M1119,666V658H1162V666M1119,686V702H1138M1162,686V693H1205V686M1205,666V649H1183
M1096,825H1115V818M1115,798V790H1158V798M1158,818V826H1202V818M1202,798V783H1183"/>
<use href="#pc" x="1092" y="521"/><use href="#pc" x="1178" y="567"/><use href="#pc" x="1116" y="594"/><use href="#pc" x="1064" y="631"/>
<use href="#pc" x="1116" y="727"/><use href="#pc" x="1059" y="756"/><use href="#pc" x="1258" y="584"/><use href="#pc" x="1214" y="627"/>
<use href="#pc" x="1258" y="719"/><use href="#pc" x="1214" y="760"/><use href="#pc" x="1142" y="702"/><use href="#pc" x="1179" y="649"/>
<use href="#pc" x="1092" y="825"/><use href="#pc" x="1179" y="783"/>
<use href="#dR" transform="translate(1112,542) rotate(-90)"/>
<use href="#dR" transform="translate(1155,542) rotate(90)"/>
<use href="#dR" transform="translate(1198,542) rotate(-90)"/>
<use href="#dR" transform="translate(1090,567) rotate(180)"/>
<use href="#dR" transform="translate(1090,609)"/>
<use href="#dR" transform="translate(1090,653) rotate(180)"/>
<use href="#dR" transform="translate(1090,692) rotate(180)"/>
<use href="#dR" transform="translate(1090,735)"/>
<use href="#dR" transform="translate(1090,777) rotate(180)"/>
<use href="#dR" transform="translate(1240,562)"/>
<use href="#dR" transform="translate(1240,606) rotate(180)"/>
<use href="#dR" transform="translate(1240,648)"/>
<use href="#dR" transform="translate(1240,693)"/>
<use href="#dR" transform="translate(1240,738) rotate(180)"/>
<use href="#dR" transform="translate(1240,782)"/>
<use href="#dR" transform="translate(1119,676) rotate(90)"/>
<use href="#dR" transform="translate(1162,676) rotate(-90)"/>
<use href="#dR" transform="translate(1205,676) rotate(90)"/>
<use href="#dR" transform="translate(1115,808) rotate(90)"/>
<use href="#dR" transform="translate(1158,808) rotate(-90)"/>
<use href="#dR" transform="translate(1202,808) rotate(90)"/>
<g class="ka">
<text x="1069" y="574">K</text><text x="1107" y="574">A</text>
<text x="1069" y="616">A</text><text x="1107" y="616">K</text>
<text x="1069" y="660">K</text><text x="1107" y="660">A</text>
<text x="1069" y="699">K</text><text x="1107" y="699">A</text>
<text x="1069" y="742">A</text><text x="1107" y="742">K</text>
<text x="1069" y="784">K</text><text x="1107" y="784">A</text>
<text x="1219" y="569">A</text><text x="1257" y="569">K</text>
<text x="1219" y="613">K</text><text x="1257" y="613">A</text>
<text x="1219" y="655">A</text><text x="1257" y="655">K</text>
<text x="1219" y="700">A</text><text x="1257" y="700">K</text>
<text x="1219" y="745">K</text><text x="1257" y="745">A</text>
<text x="1219" y="789">A</text><text x="1257" y="789">K</text>
<text x="1115" y="526">K</text><text x="1115" y="565">A</text>
<text x="1158" y="526">A</text><text x="1158" y="565">K</text>
<text x="1201" y="526">K</text><text x="1201" y="565">A</text>
<text x="1122" y="660">A</text><text x="1122" y="699">K</text>
<text x="1165" y="660">K</text><text x="1165" y="699">A</text>
<text x="1208" y="660">A</text><text x="1208" y="699">K</text>
<text x="1118" y="792">A</text><text x="1118" y="831">K</text>
<text x="1161" y="792">K</text><text x="1161" y="831">A</text>
<text x="1205" y="792">A</text><text x="1205" y="831">K</text>
</g>
<g class="net e"><text x="1086" y="524">A2</text><text x="1172" y="570">RA2</text><text x="1173" y="652">RG2</text><text x="1086" y="828">D2</text><text x="1173" y="786">RD2</text></g>
<text x="1150" y="705" class="net">G2</text>
<text transform="translate(1119,612) rotate(-90)" class="net">RF2</text>
<text transform="translate(1067,624) rotate(-90)" class="net">F2</text>
<text transform="translate(1119,747) rotate(-90)" class="net">RE2</text>
<text transform="translate(1062,748) rotate(-90)" class="net">E2</text>
<text transform="translate(1261,603) rotate(-90)" class="net">B2</text>
<text transform="translate(1217,619) rotate(-90)" class="net">RB2</text>
<text transform="translate(1261,738) rotate(-90)" class="net">C2</text>
<text transform="translate(1217,753) rotate(-90)" class="net">RC2</text>
<g class="ref">
<text x="1127" y="541">D22</text><text x="1170" y="541">D23</text><text x="1213" y="541">D24</text>
<text x="1079" y="554">D39</text><text x="1079" y="597">D38</text><text x="1079" y="640">D37</text><text x="1079" y="679">D36</text><text x="1079" y="722">D35</text><text x="1079" y="765">D34</text>
<text x="1229" y="550">D25</text><text x="1229" y="593">D26</text><text x="1229" y="636">D27</text><text x="1229" y="683">D28</text><text x="1229" y="726">D29</text><text x="1229" y="769">D30</text>
<text x="1136" y="675">D40</text><text x="1179" y="675">D41</text><text x="1222" y="674">D42</text>
<text x="1131" y="808">D33</text><text x="1174" y="808">D32</text><text x="1217" y="808">D31</text>
</g>

<!-- credits -->
<text x="131" y="813" fill="#00e000" font-size="21" textLength="250" lengthAdjust="spacingAndGlyphs">Created by ELECTROALL</text>
<text x="360" y="845" fill="#00e000" font-size="21" textLength="187" lengthAdjust="spacingAndGlyphs">AREQUIPA - PERÚ</text>
</svg>
</body></html>
